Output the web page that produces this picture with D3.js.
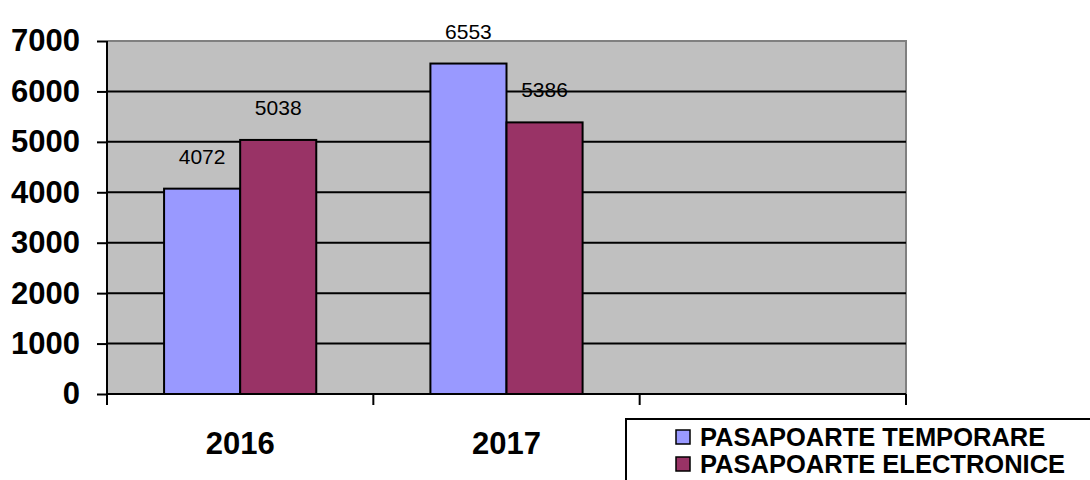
<!DOCTYPE html>
<html>
<head>
<meta charset="utf-8">
<script src="https://cdnjs.cloudflare.com/ajax/libs/d3/7.8.5/d3.min.js"></script>
<style>
  body { margin: 0; background: #fff; }
  text { font-family: "Liberation Sans", Arial, sans-serif; }
</style>
</head>
<body>
<div id="chart"></div>
<script>
// data
var categories = ["2016", "2017", ""];
var seriesNames = ["PASAPOARTE TEMPORARE", "PASAPOARTE ELECTRONICE"];
var temporare = [4072, 6553, null];
var electronice = [5038, 5386, null];
var yTicks = [0, 1000, 2000, 3000, 4000, 5000, 6000, 7000];
var colors = ["#9999FF", "#993366"];

var svgWidth = 1090;
var svgHeight = 480;

var margin = { top: 41, left: 107, right: 184, bottom: 86 };
var width = svgWidth - margin.left - margin.right;
var height = svgHeight - margin.top - margin.bottom;

var svg = d3.select("#chart")
    .append("svg")
    .attr("width", svgWidth)
    .attr("height", svgHeight);

var chartGroup = svg.append("g")
    .attr("transform", `translate(${margin.left},${margin.top})`);

var x0 = d3.scaleBand()
    .domain(d3.range(categories.length))
    .range([0, width])
    .paddingInner(0)
    .paddingOuter(0);

var x1 = d3.scaleBand()
    .domain([0, 1])
    .range([0, x0.bandwidth()])
    .paddingOuter(0.75)
    .paddingInner(0);

var y = d3.scaleLinear()
    .domain([0, 7000])
    .range([height, 0]);

// plot background
chartGroup.append("rect")
    .attr("x", 0).attr("y", 0)
    .attr("width", width).attr("height", height)
    .attr("fill", "#C0C0C0");

// top and right border (gray)
chartGroup.append("path")
    .attr("d", `M0,0H${width}V${height}`)
    .attr("fill", "none")
    .attr("stroke", "#808080")
    .attr("stroke-width", 2);

// gridlines
chartGroup.selectAll(".grid")
    .data(yTicks.slice(1, -1))
    .enter()
    .append("line")
    .attr("x1", 0).attr("x2", width)
    .attr("y1", d => y(d)).attr("y2", d => y(d))
    .attr("stroke", "#000")
    .attr("stroke-width", 2);

// bars
var series = [temporare, electronice];
series.forEach(function (vals, si) {
    var bars = vals.map((v, i) => ({ v: v, i: i })).filter(d => d.v !== null);
    chartGroup.selectAll(".bar" + si)
        .data(bars)
        .enter()
        .append("rect")
        .attr("x", d => x0(d.i) + x1(si))
        .attr("y", d => y(d.v))
        .attr("width", x1.bandwidth())
        .attr("height", d => height - y(d.v))
        .attr("fill", colors[si])
        .attr("stroke", "#000")
        .attr("stroke-width", 2);

    chartGroup.selectAll(".label" + si)
        .data(bars)
        .enter()
        .append("text")
        .attr("x", d => x0(d.i) + x1(si) + x1.bandwidth() / 2)
        .attr("y", d => y(d.v) - 25)
        .attr("text-anchor", "middle")
        .attr("font-size", "21px")
        .attr("fill", "#000")
        .text(d => d.v);
});

// y axis
var leftAxis = d3.axisLeft(y)
    .tickValues(yTicks)
    .tickFormat(d3.format("d"))
    .tickSize(10)
    .tickPadding(17);

var yAxis = chartGroup.append("g")
    .call(leftAxis);
yAxis.select(".domain").attr("stroke-width", 2).attr("d", `M0,${height + 11}V0`);
yAxis.selectAll(".tick line").attr("stroke-width", 2);
yAxis.selectAll(".tick text")
    .attr("font-size", "31px")
    .attr("font-weight", "bold")
    .attr("font-family", "Liberation Sans, Arial, sans-serif")
    .attr("fill", "#000");

// x axis
var xAxisGroup = chartGroup.append("g")
    .attr("transform", `translate(0,${height})`);
xAxisGroup.append("line")
    .attr("x1", 0).attr("x2", width)
    .attr("stroke", "#000").attr("stroke-width", 2);
xAxisGroup.selectAll(".xtick")
    .data(d3.range(categories.length + 1))
    .enter()
    .append("line")
    .attr("x1", d => d * x0.bandwidth()).attr("x2", d => d * x0.bandwidth())
    .attr("y1", 0).attr("y2", 11)
    .attr("stroke", "#000").attr("stroke-width", 2);
xAxisGroup.selectAll(".xlabel")
    .data(categories)
    .enter()
    .append("text")
    .attr("x", (d, i) => x0(i) + x0.bandwidth() / 2)
    .attr("y", 60)
    .attr("text-anchor", "middle")
    .attr("font-size", "31px")
    .attr("font-weight", "bold")
    .text(d => d);

// legend
var legend = svg.append("g")
    .attr("transform", "translate(626,419)");
legend.append("rect")
    .attr("x", 0).attr("y", 0)
    .attr("width", 480).attr("height", 80)
    .attr("fill", "#fff")
    .attr("stroke", "#000")
    .attr("stroke-width", 2);
seriesNames.forEach(function (name, i) {
    var row = legend.append("g")
        .attr("transform", `translate(50,${18 + i * 27})`);
    row.append("rect")
        .attr("x", 0).attr("y", -7)
        .attr("width", 14).attr("height", 14)
        .attr("fill", colors[i])
        .attr("stroke", "#000")
        .attr("stroke-width", 1.5);
    row.append("text")
        .attr("x", 24).attr("y", 9)
        .attr("font-size", "25.5px")
        .attr("font-weight", "bold")
        .text(name);
});
</script>
</body>
</html>
